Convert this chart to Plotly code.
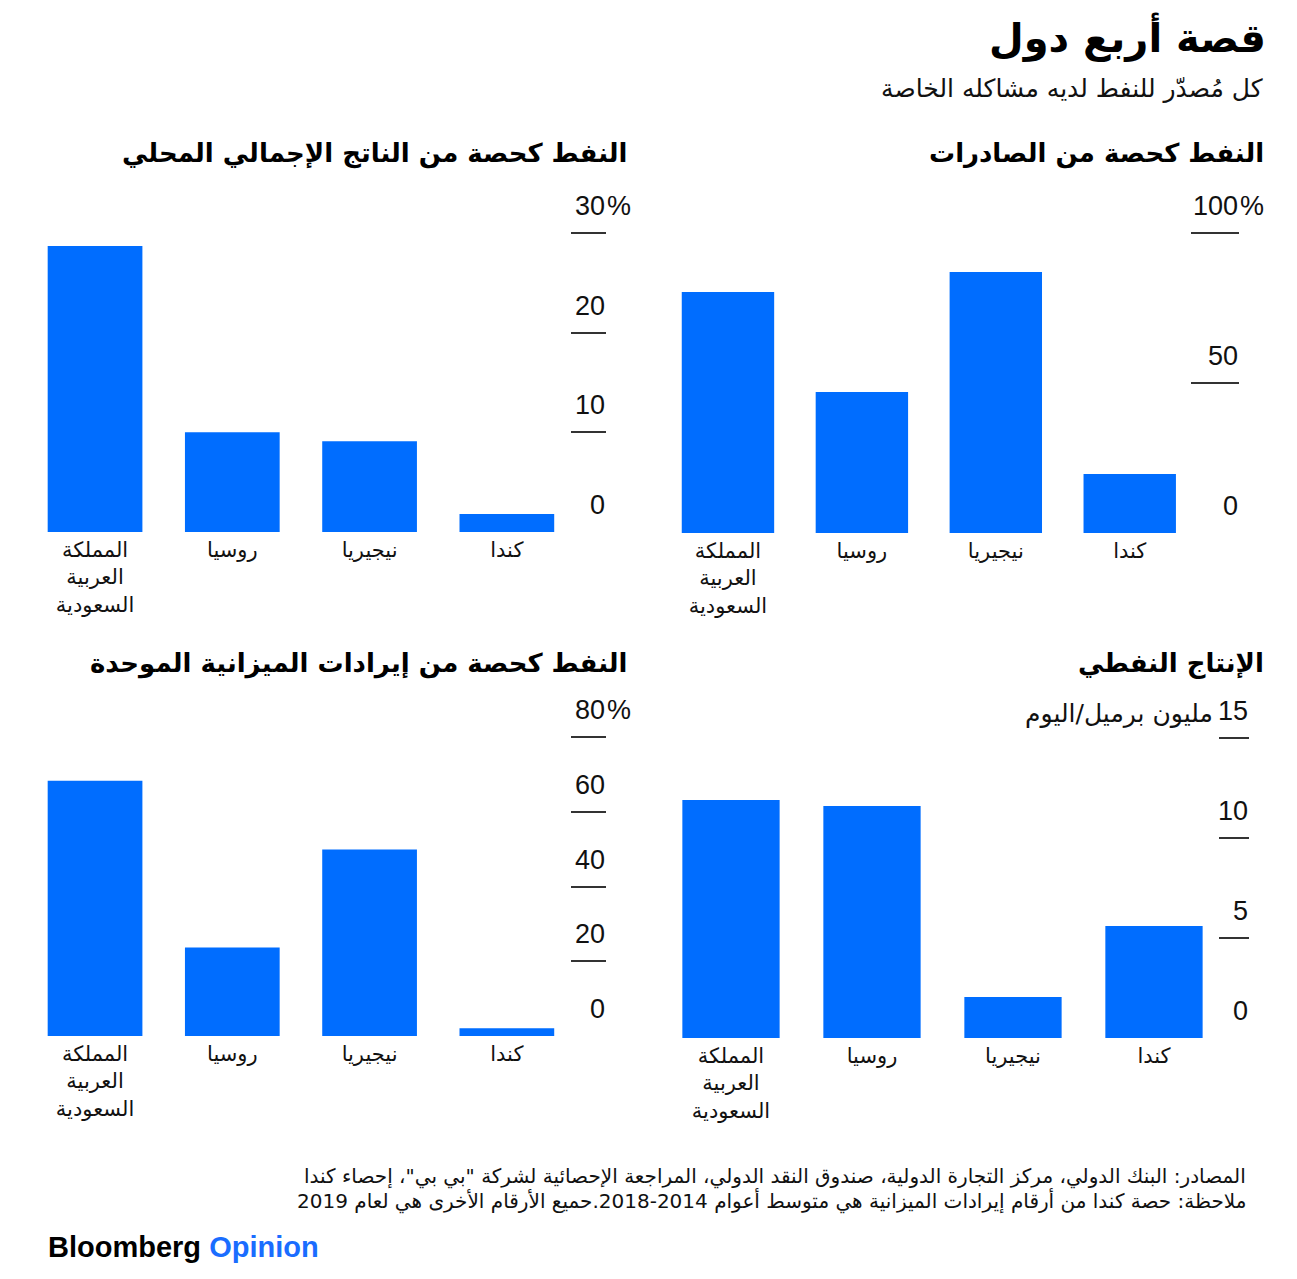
import plotly.graph_objects as go

# ---------------- data ----------------
countries = ["المملكة<br>العربية<br>السعودية", "روسيا", "نيجيريا", "كندا"]

exports_share = [80.3, 47.0, 87.0, 19.7]      # % of exports
gdp_share = [28.7, 10.0, 9.1, 1.8]            # % of GDP
production = [11.9, 11.6, 2.05, 5.6]          # million barrels/day
budget_share = [68.3, 23.7, 49.9, 2.1]        # % of budget revenue

exports_ticks = [0, 50, 100]
gdp_ticks = [0, 10, 20, 30]
production_ticks = [0, 5, 10, 15]
budget_ticks = [0, 20, 40, 60, 80]

title = "قصة أربع دول"
subtitle = "كل مُصدّر للنفط لديه مشاكله الخاصة"
panel_titles = ["النفط كحصة من الصادرات",
                "النفط كحصة من الناتج الإجمالي المحلي",
                "الإنتاج النفطي",
                "النفط كحصة من إيرادات الميزانية الموحدة"]
production_unit = "مليون برميل/اليوم"
source_text = "المصادر: البنك الدولي، مركز التجارة الدولية، صندوق النقد الدولي، المراجعة الإحصائية لشركة \"بي بي\"، إحصاء كندا"
note_text = "ملاحظة: حصة كندا من أرقام إيرادات الميزانية هي متوسط أعوام 2014-2018.حميع الأرقام الأخرى هي لعام 2019"

# ---------------- layout helpers ----------------
OFF = 8                      # page body margin
W, H = 1297 - OFF, 1279 - OFF
BLUE = "#006dff"
FONT = "Liberation Sans, DejaVu Sans, sans-serif"
AR_FONT = "DejaVu Sans, sans-serif"


def px(x):
    return (x - OFF) / W


def py(y):
    return 1 - (y - OFF) / H


# panel geometry: (x-left, x-right, y-zero, y-top)
panels = [
    dict(vals=exports_share, ticks=exports_ticks, suffix="%", geom=(661, 1190, 533, 233), xmax=3.45, ticklen=48,
         title=panel_titles[0], title_pos=(1266, 153)),
    dict(vals=gdp_share, ticks=gdp_ticks, suffix="%", geom=(26.4, 570, 532, 233), xmax=3.46, ticklen=35,
         title=panel_titles[1], title_pos=(629, 153)),
    dict(vals=production, ticks=production_ticks, suffix=None, geom=(660.5, 1218, 1038, 738), xmax=3.454, ticklen=30,
         title=panel_titles[2], title_pos=(1266, 663)),
    dict(vals=budget_share, ticks=budget_ticks, suffix="%", geom=(26.4, 570, 1036, 737), xmax=3.46, ticklen=35,
         title=panel_titles[3], title_pos=(629, 663)),
]

fig = go.Figure()
annotations = []

for i, p in enumerate(panels, start=1):
    xa = "x" if i == 1 else f"x{i}"
    ya = "y" if i == 1 else f"y{i}"
    x0, x1, y0, y1 = p["geom"]
    fig.add_trace(go.Bar(x=countries, y=p["vals"], marker=dict(color=BLUE, line=dict(width=0)),
                         xaxis=xa, yaxis=ya, hoverinfo="skip", showlegend=False))
    ymax = p["ticks"][-1]
    fig.layout[f"xaxis{'' if i == 1 else i}"] = dict(
        domain=[px(x0), px(x1)], anchor=ya, type="category",
        categoryorder="array", categoryarray=countries,
        range=[-0.5, p["xmax"]], showgrid=False, zeroline=False, showline=False,
        ticks="", ticklabelstandoff=3,
        tickfont=dict(family=AR_FONT, size=21, color="#111"), fixedrange=True)
    fig.layout[f"yaxis{'' if i == 1 else i}"] = dict(
        domain=[py(y0), py(y1)], anchor=xa, side="right", range=[0, ymax],
        tickmode="array", tickvals=p["ticks"][1:], ticks="outside", ticklen=p["ticklen"],
        tickwidth=1.5, tickcolor="#333", showticklabels=False,
        showgrid=False, zeroline=False, showline=False, fixedrange=True)

    # tick labels above tick lines
    for v in p["ticks"]:
        annotations.append(dict(
            xref=f"{xa} domain", yref=ya, x=1, y=v, xshift=p["ticklen"] + 2, yshift=27,
            xanchor="right", yanchor="middle", showarrow=False, text=str(v),
            font=dict(family=FONT, size=27, color="#111")))
    if p["suffix"]:
        annotations.append(dict(
            xref=f"{xa} domain", yref=ya, x=1, y=ymax, xshift=p["ticklen"], yshift=27,
            xanchor="left", yanchor="middle", showarrow=False, text=p["suffix"],
            font=dict(family=FONT, size=27, color="#111")))
    else:
        annotations.append(dict(
            xref=f"{xa} domain", yref=ya, x=1, y=ymax, xshift=-3, yshift=25,
            xanchor="right", yanchor="middle", showarrow=False, text=production_unit,
            font=dict(family=AR_FONT, size=25, color="#111")))

    # panel title
    tx, ty = p["title_pos"]
    annotations.append(dict(
        xref="paper", yref="paper", x=px(tx), y=py(ty), xanchor="right", yanchor="middle",
        showarrow=False, text=f"<b>{p['title']}</b>",
        font=dict(family=AR_FONT, size=26, color="#000")))

# main title / subtitle
annotations.append(dict(xref="paper", yref="paper", x=px(1268), y=py(37), xanchor="right", yanchor="middle",
                        showarrow=False, text=f"<b>{title}</b>",
                        font=dict(family=AR_FONT, size=40, color="#000")))
annotations.append(dict(xref="paper", yref="paper", x=px(1265), y=py(88), xanchor="right", yanchor="middle",
                        showarrow=False, text=subtitle,
                        font=dict(family=AR_FONT, size=25, color="#111")))
# footer
annotations.append(dict(xref="paper", yref="paper", x=px(1248), y=py(1176), xanchor="right", yanchor="middle",
                        showarrow=False, text=source_text,
                        font=dict(family=AR_FONT, size=20, color="#111")))
annotations.append(dict(xref="paper", yref="paper", x=px(1248), y=py(1201), xanchor="right", yanchor="middle",
                        showarrow=False, text=note_text,
                        font=dict(family=AR_FONT, size=20, color="#111")))
annotations.append(dict(xref="paper", yref="paper", x=px(46), y=py(1247), xanchor="left", yanchor="middle",
                        showarrow=False,
                        text="<b>Bloomberg</b> <b><span style='color:#1a6dff'>Opinion</span></b>",
                        font=dict(family=FONT, size=29, color="#000")))

fig.update_layout(
    width=W, height=H, margin=dict(l=0, r=0, t=0, b=0),
    paper_bgcolor="white", plot_bgcolor="white",
    bargap=0.31, annotations=annotations,
    font=dict(family=FONT, color="#111"),
)

fig.write_html("out.html")
